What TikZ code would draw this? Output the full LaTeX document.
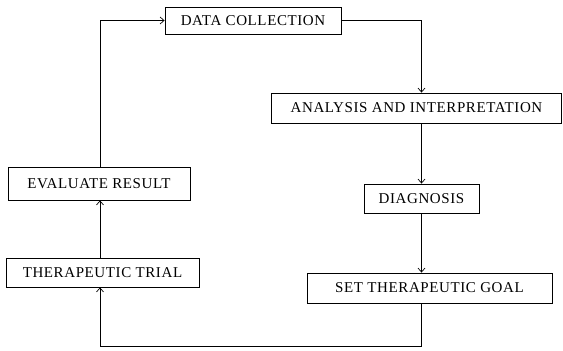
\documentclass[tikz,border=0pt]{standalone}
\usepackage{fontspec}
\setmainfont{Liberation Serif}[LetterSpace=4]
\usetikzlibrary{arrows.meta}
\tikzset{
	caja/.style={draw, line width=0.8pt, inner sep=0pt, font=\fontsize{15}{18}\selectfont},
	flecha/.style={-{Straight Barb[length=4pt, width=7pt]}, line width=0.7pt}
}
\begin{document}
\begin{tikzpicture}[x=1pt, y=-1pt]
		\useasboundingbox (0,0) rectangle (563,351);

		% Cajas del ciclo ---------------------------------------------------------
		\node[caja, minimum width=176pt, minimum height=27pt] (data) at (253, 20.5) {DATA COLLECTION};
		\node[caja, minimum width=290pt, minimum height=30pt] (analysis) at (416.5, 108) {ANALYSIS AND INTERPRETATION};
		\node[caja, minimum width=115pt, minimum height=29pt] (diagnosis) at (421.5, 198.5) {DIAGNOSIS};
		\node[caja, minimum width=245pt, minimum height=30pt] (goal) at (429.5, 288) {SET THERAPEUTIC GOAL};
		\node[caja, minimum width=193pt, minimum height=29pt] (trial) at (102.5, 272.5) {THERAPEUTIC TRIAL};
		\node[caja, minimum width=182pt, minimum height=33pt] (evaluate) at (99, 183.5) {EVALUATE RESULT};

		\coordinate (bend) at (100, 346); % esquina inferior del retorno

		% Conectores ---------------------------------------------------------------
		\draw[flecha] (data.east) -| (analysis.north -| diagnosis);
		\draw[flecha] (analysis.south -| diagnosis) -- (diagnosis.north);
		\draw[flecha] (diagnosis.south) -- (goal.north -| diagnosis);
		\draw[flecha] (goal.south -| diagnosis) |- (bend) -- (trial.south -| bend); % retorno
		\draw[flecha] (trial.north -| bend) -- (evaluate.south -| bend);
		\draw[flecha] (evaluate.north -| bend) |- (data.west);
	\end{tikzpicture}
\end{document}
